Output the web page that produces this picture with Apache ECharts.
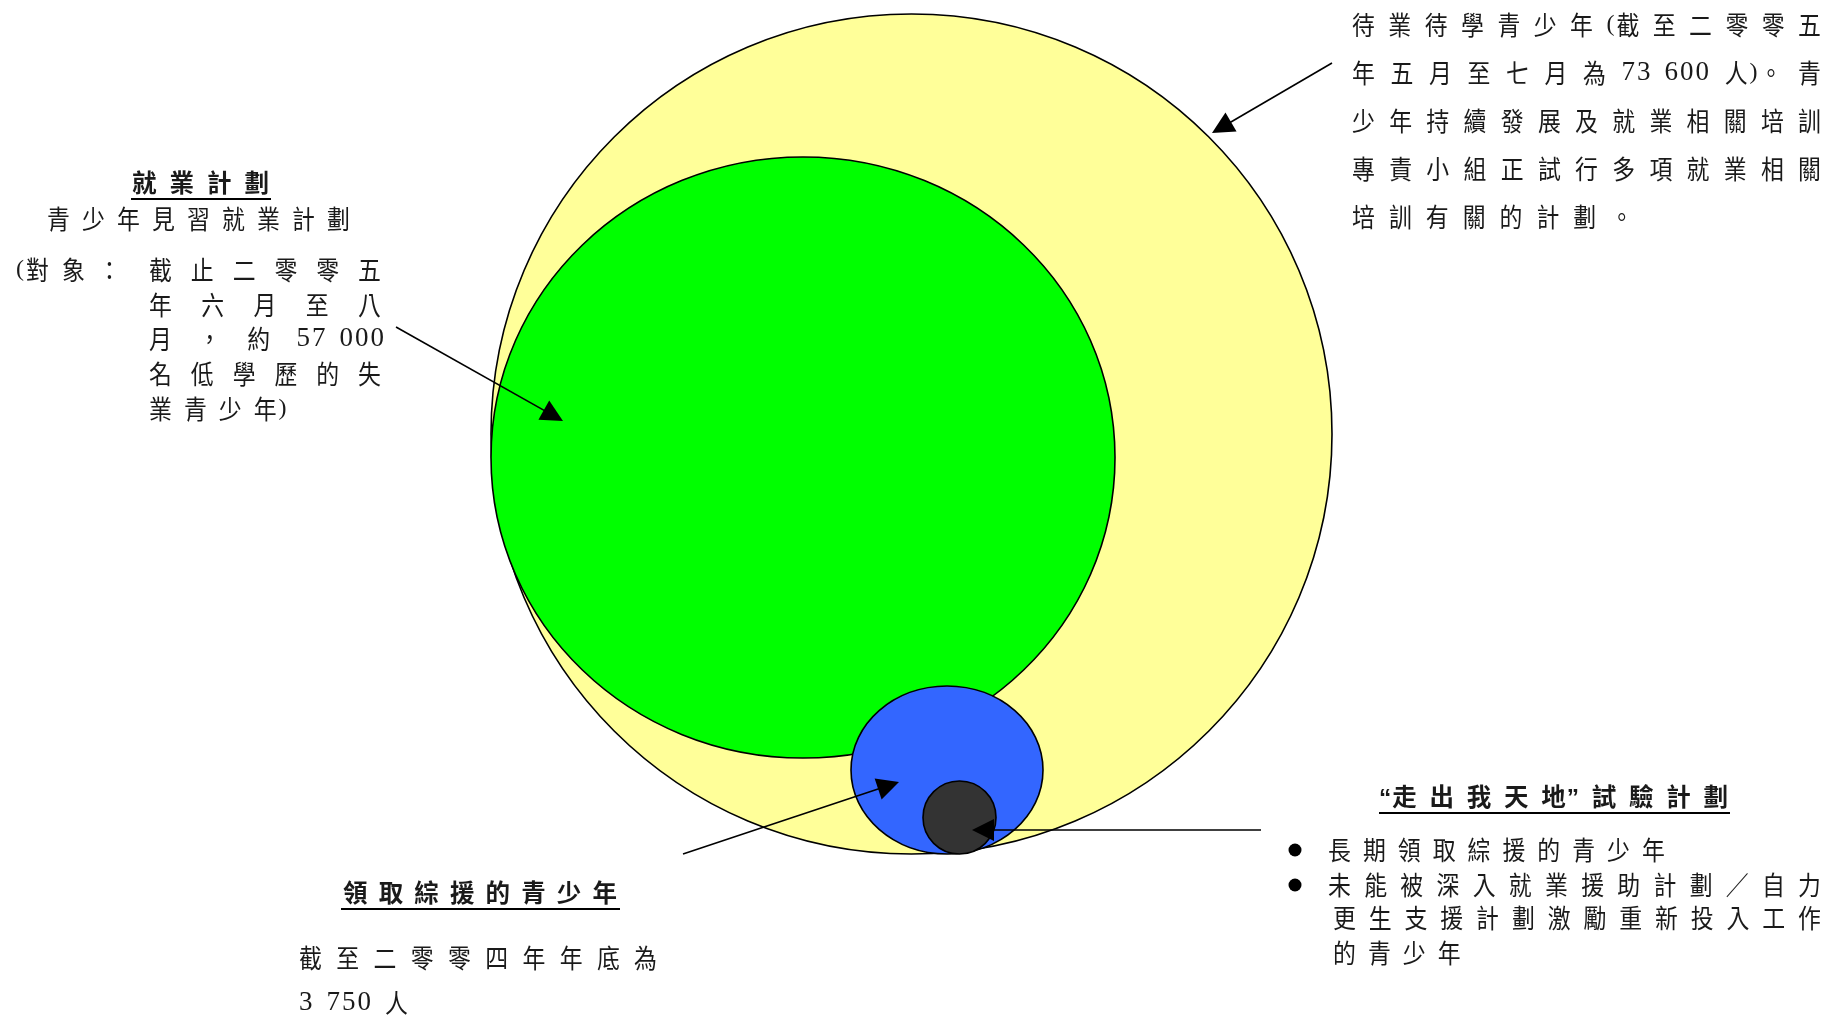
<!DOCTYPE html>
<html>
<head>
<meta charset="utf-8">
<script src="https://cdn.jsdelivr.net/npm/echarts@6/dist/echarts.min.js"></script>
<style>
html,body{margin:0;padding:0;background:#fff;overflow:hidden}
#c{width:1825px;height:1018px}
</style>
</head>
<body>
<div id="c"></div>
<script>
// ---------------- data ----------------
// nested groups (diagram units = pixels of a 1825 x 1018 canvas)
const setNames   = ['待業待學青少年', '青少年見習就業計劃', '領取綜援的青少年', '“走出我天地”試驗計劃'];
const setCenterX = [911.5, 803, 947, 959.5];
const setCenterY = [434, 457.5, 770, 817.5];
const setRadiusX = [420.5, 312, 96, 36.5];
const setRadiusY = [420, 300.5, 84, 36.5];
const setColors  = ['#FFFF99', '#00FF00', '#3366FF', '#333333'];

// callout arrows (from label towards group)
const arrowFromX = [1332, 396, 683, 1261];
const arrowFromY = [63, 327, 854, 830];
const arrowToX   = [1212, 563, 899, 972];
const arrowToY   = [133, 421, 782, 830];

// texts
const leftTitle   = '就業計劃';
const leftLines   = ['青少年見習就業計劃', '(對象：', '截止二零零五', '年六月至八', '月，約 57 000', '名低學歷的失', '業青少年)'];
const rightLines  = ['待業待學青少年(截至二零零五', '年五月至七月為 73 600 人)。青', '少年持續發展及就業相關培訓', '專責小組正試行多項就業相關', '培訓有關的計劃。'];
const cssaTitle   = '領取綜援的青少年';
const cssaLines   = ['截至二零零四年年底為', '3 750 人'];
const pilotTitle  = '“走出我天地”試驗計劃';
const pilotLines  = ['長期領取綜援的青少年', '未能被深入就業援助計劃／自力', '更生支援計劃激勵重新投入工作', '的青少年'];

// ---------------- text layout helpers ----------------
const SERIF  = "'Liberation Serif', serif";
const CJK    = "'Noto Sans CJK TC', 'Noto Sans CJK SC', sans-serif";
const TITLE_FAMILY = "'Liberation Sans', 'Noto Sans CJK TC', sans-serif";
const TEXT_COLOR = '#1a1a1a';
const mctx = document.createElement('canvas').getContext('2d');

function charStyle(ch, bold) {
  if (bold) return { size: 24.5, family: TITLE_FAMILY, weight: 'bold', sx: 1 };
  if (/[0-9 ]/.test(ch)) return { size: 27, family: SERIF, weight: 'normal', sx: 1 };
  if (/[()]/.test(ch)) return { size: 24, family: SERIF, weight: 'normal', sx: 1 };
  return { size: 26, family: CJK, weight: 'normal', sx: 0.88 };
}
function tokenize(line) {
  return line.match(/[(“]?(?:[0-9]+(?: [0-9]+)*|[^\s()“”])(?:\)。?|”)?/g) || [];
}
function measureToken(tok, bold) {
  const isNum = /[0-9]/.test(tok);
  const ls = 2;
  let x = 0; const parts = [];
  const chars = Array.from(tok);
  chars.forEach((ch, i) => {
    const st = charStyle(ch, bold);
    let w;
    if (ch === ' ' && isNum) w = 10;
    else { mctx.font = st.weight + ' ' + st.size + 'px ' + st.family; w = mctx.measureText(ch).width * st.sx; }
    parts.push({ ch, dx: x, st });
    x += w + (i < chars.length - 1 ? (bold ? 1 : ls) : 0);
  });
  return { parts, width: x };
}
const elements = [];
function layoutLine(text, y, x0, x1, gap, bold) {
  const toks = tokenize(text).map(t => measureToken(t, bold));
  const total = toks.reduce((s, t) => s + t.width, 0);
  let g = gap;
  if (x1 != null && toks.length > 1) g = (x1 - x0 - total) / (toks.length - 1);
  let x = x0;
  toks.forEach(t => {
    t.parts.forEach(p => {
      if (p.ch === ' ') return;
      elements.push({
        type: 'text', x: x + p.dx, y: y, scaleX: p.st.sx, silent: true, z: 100,
        style: { text: p.ch, fontSize: p.st.size, fontWeight: p.st.weight, fontFamily: p.st.family,
                 fill: TEXT_COLOR, align: 'left', verticalAlign: 'middle' }
      });
    });
    x += t.width + g;
  });
  return { start: x0, end: x - g };
}
function underline(x0, x1, y) {
  elements.push({ type: 'rect', silent: true, z: 100,
    shape: { x: x0, y: y, width: x1 - x0, height: 2 }, style: { fill: '#000' } });
}

// left block
let r = layoutLine(leftTitle, 185, 132, 269, null, true);
underline(r.start - 1, r.end + 2, 198);
layoutLine(leftLines[0], 219, 47, 350, null, false);
layoutLine(leftLines[1], 270, 16, 121, null, false);
layoutLine(leftLines[2], 270, 149, 381, null, false);
layoutLine(leftLines[3], 305, 149, 381, null, false);
layoutLine(leftLines[4], 339, 149, 384, null, false);
layoutLine(leftLines[5], 374, 149, 381, null, false);
layoutLine(leftLines[6], 409, 149, null, 12, false);

// right top block
const rightY = [25, 73, 121, 169, 217];
rightLines.forEach((ln, i) => {
  if (i < rightLines.length - 1) layoutLine(ln, rightY[i], 1352, 1821, null, false);
  else layoutLine(ln, rightY[i], 1352, null, 14, false);
});

// bottom left block
r = layoutLine(cssaTitle, 895, 343, 617, null, true);
underline(r.start - 2, r.end + 3, 908);
layoutLine(cssaLines[0], 958, 299, 657, null, false);
layoutLine(cssaLines[1], 1003, 299, null, 14, false);

// bottom right block
r = layoutLine(pilotTitle, 799, 1379, 1728, null, true);
underline(r.start, r.end + 2, 812);
const pilotY = [850, 885, 918, 953];
layoutLine(pilotLines[0], pilotY[0], 1328, null, 12, false);
layoutLine(pilotLines[1], pilotY[1], 1328, 1821, null, false);
layoutLine(pilotLines[2], pilotY[2], 1333, 1821, null, false);
layoutLine(pilotLines[3], pilotY[3], 1333, null, 12, false);
[pilotY[0], pilotY[1]].forEach(y => elements.push({ type: 'circle', silent: true, z: 100,
  shape: { cx: 1295, cy: y, r: 6.5 }, style: { fill: '#000' } }));

// ---------------- chart ----------------
const ARROW_LEN = 22, ARROW_W = 16;
const arrowData = arrowFromX.map((fx, i) => {
  const fy = arrowFromY[i], tx = arrowToX[i], ty = arrowToY[i];
  const d = Math.hypot(tx - fx, ty - fy);
  const k = (ARROW_LEN / 2) / d;
  return { coords: [[fx, fy], [tx - (tx - fx) * k, ty - (ty - fy) * k]] };
});

const chart = echarts.init(document.getElementById('c'), null, { renderer: 'canvas' });
chart.setOption({
  animation: false,
  backgroundColor: '#fff',
  grid: { left: 0, right: 0, top: 0, bottom: 0 },
  xAxis: { type: 'value', min: 0, max: 1825, show: false },
  yAxis: { type: 'value', min: 0, max: 1018, inverse: true, show: false },
  series: [
    {
      type: 'custom',
      silent: true,
      clip: false,
      encode: { x: 0, y: 1 },
      data: setNames.map((n, i) => ({ name: n, value: [setCenterX[i], setCenterY[i], setRadiusX[i], setRadiusY[i]] })),
      renderItem: function (params, api) {
        const c = api.coord([api.value(0), api.value(1)]);
        const s = api.size([api.value(2), api.value(3)]);
        return {
          type: 'ellipse',
          shape: { cx: c[0], cy: c[1], rx: s[0], ry: s[1] },
          style: { fill: setColors[params.dataIndex], stroke: '#000', lineWidth: 1.6 }
        };
      },
      z: 2
    },
    {
      type: 'lines',
      coordinateSystem: 'cartesian2d',
      silent: true,
      symbol: ['none', 'triangle'],
      symbolSize: [ARROW_W, ARROW_LEN],
      lineStyle: { color: '#000', width: 1.6, opacity: 1, curveness: 0 },
      itemStyle: { color: '#000' },
      data: arrowData,
      z: 5
    }
  ],
  graphic: { elements: elements }
});
</script>
</body>
</html>
